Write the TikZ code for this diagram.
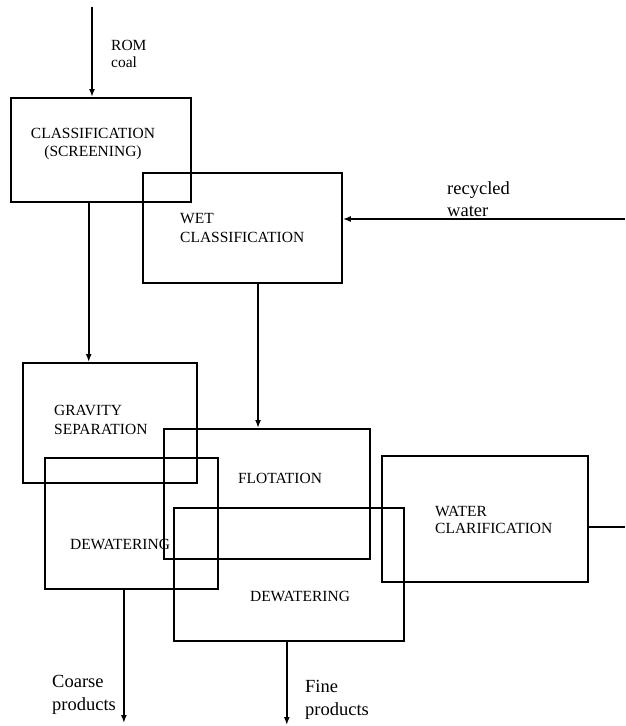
\documentclass[tikz,border=0pt]{standalone}
\usepackage{fontspec}
\setmainfont{Liberation Serif}
\usetikzlibrary{arrows.meta,calc}
\begin{document}
\begin{tikzpicture}[x=1pt,y=-1pt,
  box/.style={draw,line width=1.8pt,inner sep=0pt,anchor=north west},
  arr/.style={line width=1.8pt,-{Latex[length=8pt,width=6pt]}},
  ln/.style={line width=1.8pt},
  btxt/.style={font=\fontsize{15.5}{18.5}\selectfont,inner sep=0pt},
  ltxt/.style={font=\fontsize{18.5}{22.5}\selectfont,inner sep=0pt,align=left,anchor=west}]
\useasboundingbox (0,0) rectangle (625,726);
% boxes
\node[box,minimum width=180pt,minimum height=104pt] (b1) at (10,97) {};
\node[box,minimum width=199pt,minimum height=110pt] (b2) at (142,172) {};
\node[box,minimum width=174pt,minimum height=120pt] (b3) at (22,362) {};
\node[box,minimum width=206pt,minimum height=130pt] (b4) at (163,428) {};
\node[box,minimum width=173pt,minimum height=131pt] (b5) at (44,457) {};
\node[box,minimum width=230pt,minimum height=133pt] (b6) at (173,507) {};
\node[box,minimum width=206pt,minimum height=126pt] (b7) at (381,455) {};
% box texts
\node[btxt,align=center] (t1) at (93,144) {CLASSIFICATION\\(SCREENING)};
\node[btxt,align=left,anchor=west] (t2) at (180,228) {WET\\CLASSIFICATION};
\node[btxt,align=left,anchor=west] (t3) at (54,420) {GRAVITY\\SEPARATION};
\node[btxt] (t4) at (280,478) {FLOTATION};
\node[btxt] (t5) at (120,544) {DEWATERING};
\node[btxt] (t6) at (300,596) {DEWATERING};
\node[btxt,align=left,anchor=west,font=\fontsize{15.5}{17.5}\selectfont] (t7) at (435,520) {WATER\\CLARIFICATION};
% labels
\node[btxt,align=left,anchor=west,font=\fontsize{15.5}{16.5}\selectfont] (lrom) at (111,54) {ROM\\coal};
\node[ltxt] (lrw) at (447,199) {recycled\\water};
\node[ltxt] (lcp) at (52,695) {Coarse\\products};
\node[ltxt] (lfp) at (305,700) {Fine\\products};
% free ends
\coordinate (rom) at (92,7);
\coordinate (rw) at (625,219);
\coordinate (out) at (625,527);
\coordinate (cend) at (0,723);
\coordinate (fend) at (0,725);
% connectors
\draw[arr] (rom) -- (rom |- b1.north);
\draw[arr] ($(b1.south west)!0.433!(b1.south east)$) coordinate (p1) -- (p1 |- b3.north);
\draw[arr] ($(b2.south west)!0.578!(b2.south east)$) coordinate (p2) -- (p2 |- b4.north);
\draw[arr] (rw) -- (rw -| b2.east);
\draw[ln] (out -| b7.east) -- (out);
\draw[arr] ($(b5.south west)!0.457!(b5.south east)$) coordinate (p5) -- (p5 |- cend);
\draw[arr] ($(b6.south west)!0.491!(b6.south east)$) coordinate (p6) -- (p6 |- fend);
\end{tikzpicture}
\end{document}
